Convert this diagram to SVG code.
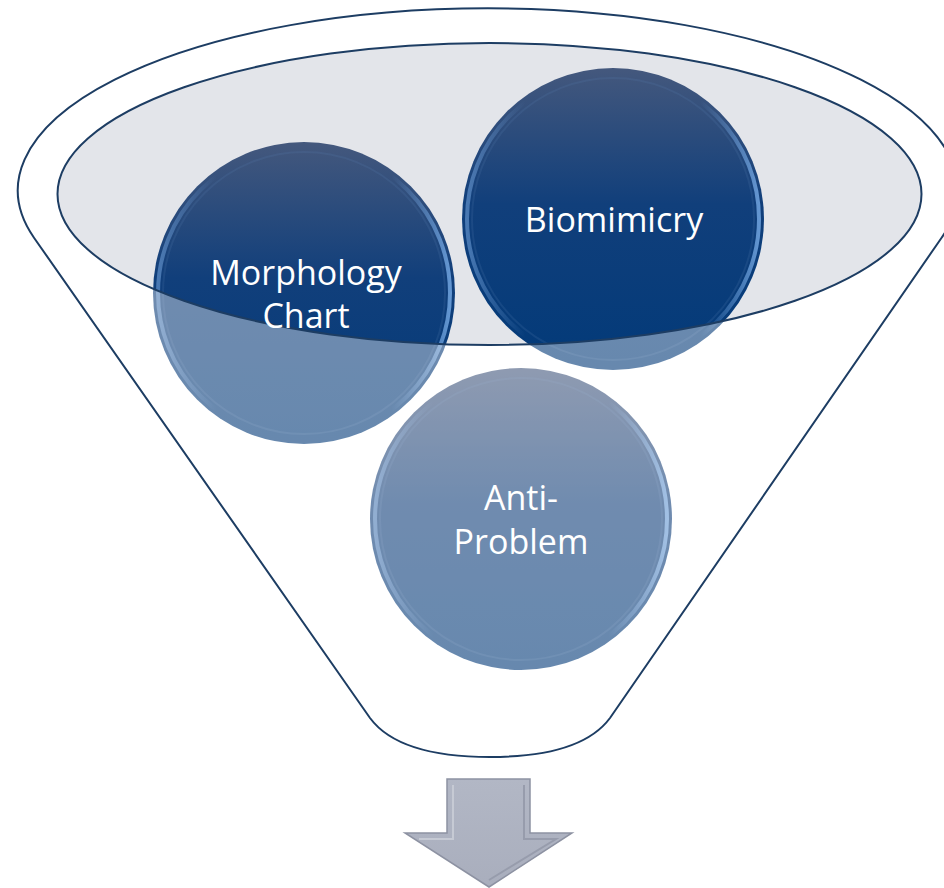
<svg xmlns="http://www.w3.org/2000/svg" width="944" height="888" viewBox="0 0 944 888">
<style>
.lbl{font-family:"Open Sans","Liberation Sans",sans-serif;font-size:34px;fill:#ffffff;text-anchor:middle}
</style>
<defs>
<linearGradient id="ball" x1="0" y1="0" x2="0" y2="1">
<stop offset="0" stop-color="#44587d"/>
<stop offset="0.45" stop-color="#113f7b"/>
<stop offset="1" stop-color="#023a79"/>
</linearGradient>
<linearGradient id="rim" x1="0" y1="0" x2="1" y2="0">
<stop offset="0" stop-color="#6f9fd8" stop-opacity="0.6"/>
<stop offset="0.2" stop-color="#6f9fd8" stop-opacity="0"/>
<stop offset="0.8" stop-color="#7fb3ee" stop-opacity="0"/>
<stop offset="1" stop-color="#7fb3ee" stop-opacity="0.75"/>
</linearGradient>
<linearGradient id="arrowg" x1="0" y1="0" x2="0" y2="1">
<stop offset="0" stop-color="#b2b7c5"/>
<stop offset="1" stop-color="#a9aebd"/>
</linearGradient>
<g id="sphere">
<circle r="151" fill="url(#ball)"/>
<circle r="146" fill="none" stroke="url(#rim)" stroke-width="4"/>
<circle r="141" fill="none" stroke="#5a7fb0" stroke-opacity="0.18" stroke-width="2"/>
</g>
</defs>
<rect width="944" height="888" fill="#ffffff"/>
<g id="funnel-mouth-fill">
<ellipse cx="489.5" cy="194" rx="432" ry="151" fill="#e3e5ea"/>
</g>
<g id="node-morphology">
<use href="#sphere" x="304" y="293"/>
</g>
<g id="node-biomimicry">
<use href="#sphere" x="613" y="219"/>
</g>
<g id="node-antiproblem">
<use href="#sphere" x="521" y="519"/>
</g>
<g id="funnel">
<path fill="#ffffff" fill-opacity="0.4" fill-rule="evenodd" stroke="#1d3d63" stroke-width="2" d="M34,237.7 A470 182 0 1 1 941.6,237.7 L610,718 C590,745 550,757 490,757 C430,757 390,745 370,718 Z M57.5,194 A432 151 0 1 0 921.5,194 A432 151 0 1 0 57.5,194 Z"/>
</g>
<g id="labels">
<text class="lbl" x="306" y="285">Morphology</text>
<text class="lbl" x="306" y="328">Chart</text>
<text class="lbl" x="614" y="232">Biomimicry</text>
<text class="lbl" x="521" y="510">Anti-</text>
<text class="lbl" x="521" y="554">Problem</text>
</g>
<g id="connectors">
<g id="output-arrow">
<polygon points="447,779 530,779 530,833 572,833 489,887 405,833 447,833" fill="url(#arrowg)" stroke="#8d92a2" stroke-width="1.5"/>
<polyline points="453,785 453,839 419,839" fill="none" stroke="#c6cad4" stroke-width="2"/>
<polyline points="524,785 524,839 556,839 489,880" fill="none" stroke="#979cac" stroke-width="2"/>
</g>
</g>
</svg>
